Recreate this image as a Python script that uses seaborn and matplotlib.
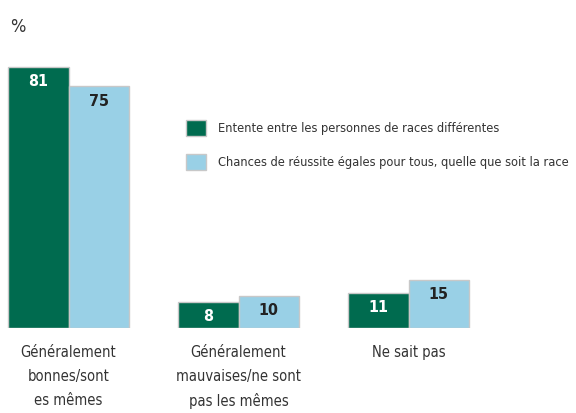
import matplotlib
matplotlib.use("Agg")
import matplotlib.pyplot as plt
from matplotlib.font_manager import FontProperties
import seaborn as sns
import pandas as pd

sns.set_style("white")
plt.rcParams["font.family"] = ["DejaVu Sans"]
plt.rcParams["font.stretch"] = "condensed"

categories = ["Généralement\nbonnes/sont\nes mêmes",
              "Généralement\nmauvaises/ne sont\npas les mêmes",
              "Ne sait pas"]
series = ["Entente entre les personnes de races différentes",
          "Chances de réussite égales pour tous, quelle que soit la race"]
entente = [81, 8, 11]
chances = [75, 10, 15]
colors = ["#006b4f", "#99d0e6"]

df = pd.DataFrame({
    "cat": categories * 2,
    "serie": [series[0]] * 3 + [series[1]] * 3,
    "val": entente + chances,
})

fig = plt.figure(figsize=(5.76, 4.13), dpi=100)
ax = fig.add_axes([0, 85 / 413, 1, 328 / 413])

sns.barplot(data=df, x="cat", y="val", hue="serie", palette=colors, saturation=1,
            width=0.71, edgecolor="#c8c8c8", linewidth=1, ax=ax)

ax.set_xlim(-0.403, 2.985)
ax.set_ylim(0, 101.8)
for s in ax.spines.values():
    s.set_visible(False)
ax.set_yticks([])
ax.set_xlabel("")
ax.set_ylabel("")
ax.tick_params(axis="x", length=0, pad=12, labelsize=10.5, labelcolor="#333333")
for lab in ax.get_xticklabels():
    lab.set_linespacing(1.75)

for cont, tc in zip(ax.containers, ["white", "#222222"]):
    ax.bar_label(cont, padding=-16, color=tc, fontsize=11.5, fontweight="bold")

handles, labels = ax.get_legend_handles_labels()
leg_font = FontProperties(family="DejaVu Sans", stretch="condensed", size=9.2)
ax.legend(handles, labels, loc="upper left", bbox_to_anchor=(186 / 576, 1 - 120 / 328),
          frameon=False, prop=leg_font, handlelength=1.6, handleheight=1.6,
          labelspacing=1.35, handletextpad=0.9, borderpad=0, borderaxespad=0,
          labelcolor="#333333")

fig.text(10 / 576, 1 - 32 / 413, "%", fontsize=13, color="#333333")

fig.savefig("out.png", dpi=100)
